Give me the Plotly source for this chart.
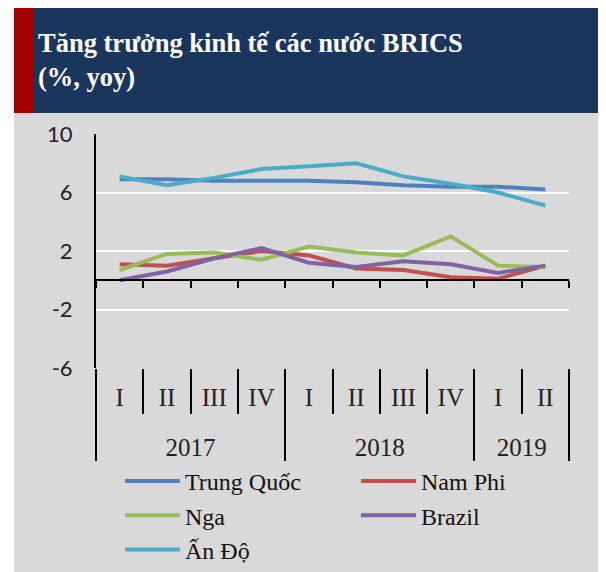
import plotly.graph_objects as go

# dữ liệu (% yoy)
years = ["2017"] * 4 + ["2018"] * 4 + ["2019"] * 2
quarters = ["I", "II", "III", "IV", "I", "II", "III", "IV", "I", "II"]

trung_quoc = [6.9, 6.9, 6.8, 6.8, 6.8, 6.7, 6.5, 6.4, 6.4, 6.2]
nam_phi = [1.1, 1.0, 1.5, 2.0, 1.7, 0.8, 0.7, 0.2, 0.1, 1.0]
nga = [0.7, 1.8, 1.9, 1.4, 2.3, 1.9, 1.7, 3.0, 1.0, 0.9]
brazil = [0.0, 0.6, 1.5, 2.2, 1.2, 0.9, 1.3, 1.1, 0.5, 1.0]
an_do = [7.1, 6.5, 7.0, 7.6, 7.8, 8.0, 7.1, 6.6, 6.0, 5.1]

y_ticks = [-6, -2, 2, 6, 10]
y_ticktext = ["-6", "-2", "2", "6", "10"]

series = [
    ("Trung Quốc", trung_quoc, "#4F81BD"),
    ("Nam Phi", nam_phi, "#C0504D"),
    ("Nga", nga, "#9BBB59"),
    ("Brazil", brazil, "#8064A2"),
    ("Ấn Độ", an_do, "#4BACC6"),
]

y_range = [-6, 10]
x_range = [-0.5, len(quarters) - 0.5]

# trang html có lề body 8px, nên hình nhỏ hơn cửa sổ một chút
W, H = 598, 564
ML, MR, MT, MB = 88, 37, 126, 204
PW = W - ML - MR
PH = H - MT - MB

GRAY = "#D9D9D9"
NAVY = "#1B365D"
DARKRED = "#A30000"
SERIF = "Liberation Serif"


def px_x(p):
    return (p - ML) / PW


def px_y(p):
    return (H - MB - p) / PH


# dòng trống phía dưới để đẩy nhãn năm xuống
quarter_labels = [q + "<br>\u00a0" for q in quarters]

fig = go.Figure()

for name, vals, color in series:
    fig.add_trace(go.Scatter(
        x=[years, quarter_labels],
        y=vals,
        name=name,
        mode="lines",
        line=dict(color=color, width=4),
    ))

# khung nền, dải tiêu đề
fig.add_shape(type="rect", xref="paper", yref="paper", layer="below",
              x0=px_x(6), x1=px_x(W + 2), y0=px_y(-2), y1=px_y(H + 2),
              fillcolor=GRAY, line_width=0)
fig.add_shape(type="rect", xref="paper", yref="paper",
              x0=px_x(26), x1=px_x(W + 2), y0=px_y(-2), y1=px_y(105),
              fillcolor=NAVY, line_width=0)
fig.add_shape(type="rect", xref="paper", yref="paper",
              x0=px_x(6), x1=px_x(26), y0=px_y(-2), y1=px_y(105),
              fillcolor=DARKRED, line_width=0)

fig.add_annotation(
    text="<b>Tăng trưởng kinh tế các nước BRICS<br>(%, yoy)</b>",
    xref="paper", yref="paper", x=px_x(28), y=px_y(52),
    xanchor="left", yanchor="middle", align="left", showarrow=False,
    font=dict(family=SERIF, size=26.5, color="white"),
)

fig.update_layout(
    width=W, height=H,
    margin=dict(l=ML, r=MR, t=MT, b=MB, autoexpand=False),
    paper_bgcolor="white",
    plot_bgcolor=GRAY,
    showlegend=True,
    legend=dict(
        orientation="h",
        xref="container", yref="container",
        x=112 / W, y=1 - 451 / H, xanchor="left", yanchor="top",
        itemwidth=55,
        entrywidth=166,
        font=dict(family=SERIF, size=24, color="#111"),
        bgcolor="rgba(0,0,0,0)",
        traceorder="normal",
    ),
    xaxis=dict(
        type="multicategory",
        range=x_range,
        showline=False,
        showgrid=False,
        zeroline=False,
        ticks="outside",
        tickson="boundaries",
        ticklen=45,
        tickwidth=2,
        tickcolor="black",
        showdividers=True,
        dividercolor="black",
        dividerwidth=2,
        ticklabelstandoff=12,
        tickfont=dict(family=SERIF, size=25, color="#222"),
    ),
    # trục phụ để vẽ đường 0 có vạch chia
    xaxis2=dict(
        overlaying="x",
        anchor="free",
        position=(0 - y_range[0]) / (y_range[1] - y_range[0]),
        range=x_range,
        tickmode="linear", tick0=-0.5, dtick=1,
        ticks="outside", ticklen=7, tickwidth=2, tickcolor="black",
        showline=True, linecolor="black", linewidth=2,
        showgrid=False, zeroline=False, showticklabels=False,
    ),
    yaxis=dict(
        range=y_range,
        tickmode="array", tickvals=y_ticks, ticktext=y_ticktext,
        showgrid=True, gridcolor="white", gridwidth=2,
        zeroline=False,
        showline=True, linecolor="black", linewidth=2,
        ticks="",
        ticklabelstandoff=17,
        tickfont=dict(family="Lato", size=22, color="#222"),
    ),
)

# dấu vết ẩn để trục phụ được vẽ
fig.add_trace(go.Scatter(x=list(range(len(quarters))), y=trung_quoc, xaxis="x2",
                         mode="lines", line=dict(width=0), opacity=0,
                         showlegend=False, hoverinfo="skip"))

fig.write_html("out.html")
